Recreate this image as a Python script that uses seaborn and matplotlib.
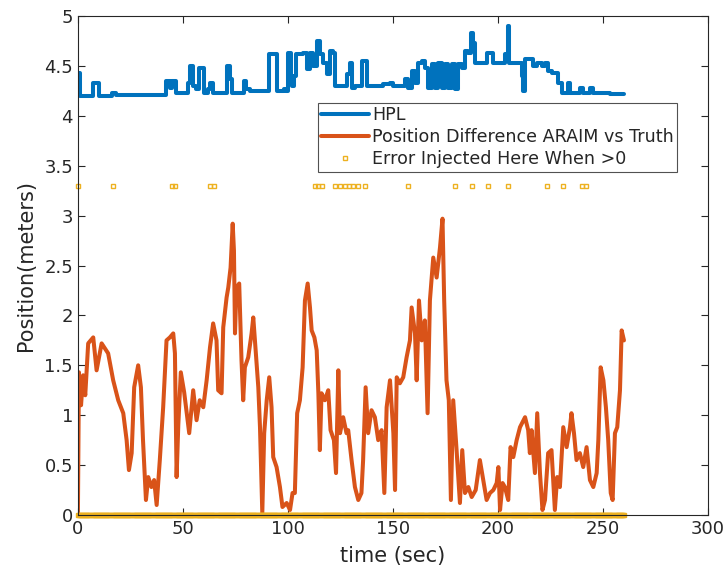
import numpy as np
import pandas as pd
import matplotlib
matplotlib.use('Agg')
import matplotlib.pyplot as plt
import seaborn as sns
from matplotlib.ticker import FuncFormatter

# HPL (step values, held until next time)
hpl_time = [0, 1, 7, 10, 16, 18, 42, 44, 45, 46.5, 52.5, 53.5, 55, 56, 57.5, 60, 62, 63, 64.5,
            71, 72.5, 73.5, 79, 80, 82, 91, 95, 98, 99, 100, 101.5, 102, 103, 104, 107.3,
            108.9, 110.5, 112.1, 113.7, 115.2, 116.8, 118.4, 120, 121.6, 122.4, 128, 129.5,
            130.3, 131.9, 135.1, 137.5, 145.4, 148.6, 150.2, 155.7, 157.3, 158.9, 160.5,
            162.1, 163.7, 165.2, 166.8, 168.4, 170, 171.6, 173.2, 174.8, 176.4, 178, 179.5,
            181.1, 182.7, 184.3, 185.9, 187, 188.2, 189, 194.6, 197.8, 203.3, 204.6, 205.4,
            211.3, 212.1, 212.9, 216.8, 218.4, 220.8, 222.4, 224, 225.5, 228.7, 230.3, 233.5,
            234.3, 239, 240.6, 243.8, 245.4, 253.3, 260]
hpl_value = [4.43, 4.20, 4.33, 4.20, 4.23, 4.21, 4.35, 4.28, 4.35, 4.23, 4.33, 4.50, 4.30, 4.27,
             4.48, 4.23, 4.27, 4.33, 4.23, 4.50, 4.37, 4.23, 4.35, 4.27, 4.25, 4.62, 4.25, 4.27,
             4.25, 4.63, 4.40, 4.30, 4.40, 4.62, 4.63, 4.47, 4.63, 4.50, 4.75, 4.62, 4.53, 4.42,
             4.65, 4.63, 4.30, 4.42, 4.53, 4.28, 4.30, 4.55, 4.30, 4.32, 4.33, 4.30, 4.37, 4.28,
             4.45, 4.33, 4.53, 4.55, 4.48, 4.28, 4.52, 4.28, 4.53, 4.28, 4.52, 4.28, 4.52, 4.27,
             4.52, 4.48, 4.65, 4.63, 4.83, 4.73, 4.53, 4.63, 4.53, 4.62, 4.90, 4.53, 4.40, 4.25,
             4.57, 4.50, 4.53, 4.50, 4.53, 4.45, 4.43, 4.33, 4.23, 4.33, 4.23, 4.28, 4.23, 4.28,
             4.23, 4.22, 4.22]

# Position difference ARAIM vs truth
diff_time = [0, 0.5, 1.5, 2.5, 3.5, 4.9, 7.3, 8.9, 11.3, 14.4, 16.8, 19.2, 21.6, 23.2, 24.3,
             25.6, 26.8, 28.7, 30, 31, 32.4, 33.5, 35, 36.3, 37.5, 39, 40.6, 42.2, 43.8, 45.4,
             46.2, 47, 47.8, 49, 50.6, 53, 54.9, 56.5, 58, 59.7, 61.3, 62.9, 64.4, 66, 66.8,
             68.4, 69.2, 70.8, 71.6, 72.7, 73.7, 74.3, 74.8, 75.5, 76.8, 77.9, 78.7, 79.5,
             81.1, 82.7, 83.5, 84.3, 85.9, 86.7, 87.8, 88.7, 89.9, 91.1, 92.2, 93, 94.6, 96.2,
             97.4, 99.4, 101, 102.2, 103.3, 104.4, 105.7, 107, 108.1, 109.4, 110.5, 111.3,
             112.6, 113.7, 114.5, 115.2, 116, 117.6, 119.2, 120.3, 121.9, 122.9, 124, 124.8,
             126.3, 127.9, 128.7, 130.3, 131.9, 133.5, 135, 135.8, 137, 138.2, 139.8, 141.4,
             143, 144.6, 145.9, 147, 148.6, 150.2, 151, 151.8, 153.3, 154.9, 156.5, 158.1,
             158.9, 160.5, 161.3, 162.4, 163.7, 165.2, 166.5, 167.6, 169.2, 170.8, 172.4,
             173.6, 174.4, 175.5, 176.6, 177.6, 178.7, 180.3, 181.9, 183, 184.3, 185.9, 187.5,
             189.4, 191.4, 193, 194.6, 196.2, 197.8, 199.4, 200.2, 201, 202.2, 203.3, 204.9,
             206, 207.3, 208.9, 210.5, 212.9, 214.4, 215.2, 216, 217.6, 218.7, 220, 221.2,
             222.4, 223.9, 225.5, 227.1, 228.2, 229.5, 231.1, 232.7, 234.3, 235, 236.2, 237.4,
             239, 240.6, 242.2, 243.8, 245.4, 247, 247.8, 248.9, 250.2, 251.4, 252.5, 253.7,
             254.6, 255.7, 256.8, 258.1, 258.9, 260]
diff_value = [0, 1.43, 1.1, 1.4, 1.2, 1.72, 1.78, 1.45, 1.72, 1.62, 1.35, 1.15, 1.02, 0.75, 0.45,
              0.62, 1.28, 1.5, 1.28, 0.75, 0.15, 0.38, 0.28, 0.35, 0.1, 0.55, 1.08, 1.75, 1.78,
              1.82, 1.62, 0.38, 0.9, 1.43, 1.23, 0.82, 1.25, 0.95, 1.15, 1.08, 1.35, 1.68, 1.92,
              1.75, 1.25, 1.22, 1.88, 2.18, 2.28, 2.48, 2.92, 2.65, 1.82, 2.28, 2.32, 1.55, 1.15,
              1.48, 1.58, 1.82, 1.98, 1.75, 1.28, 0.88, 0.02, 0.82, 1.15, 1.38, 1.08, 0.58, 0.48,
              0.28, 0.08, 0.12, 0.05, 0.22, 0.22, 1.02, 1.15, 1.48, 2.15, 2.32, 2.08, 1.85, 1.78,
              1.65, 1.22, 0.65, 1.22, 1.15, 1.25, 0.85, 0.75, 0.42, 1.45, 0.82, 0.98, 0.82, 0.85,
              0.55, 0.28, 0.15, 0.22, 0.55, 1.28, 0.82, 1.05, 0.98, 0.75, 0.85, 0.22, 1.08, 1.35,
              0.82, 0.25, 1.38, 1.32, 1.38, 1.58, 1.75, 2.08, 1.82, 1.35, 2.15, 1.75, 1.95, 1.02,
              2.15, 2.58, 2.38, 2.68, 2.97, 2.15, 1.35, 1.15, 0.15, 1.15, 0.65, 0.12, 0.65, 0.22,
              0.28, 0.18, 0.25, 0.55, 0.35, 0.15, 0.22, 0.25, 0.32, 0.48, 0.05, 0.32, 0.28, 0.15,
              0.68, 0.58, 0.75, 0.88, 0.98, 0.85, 0.62, 0.85, 0.42, 1.02, 0.42, 0.05, 0.15, 0.62,
              0.65, 0.05, 0.38, 0.28, 0.88, 0.68, 0.88, 1.02, 0.82, 0.55, 0.62, 0.48, 0.68, 0.35,
              0.28, 0.42, 0.75, 1.48, 1.35, 1.08, 0.75, 0.22, 0.15, 0.82, 0.88, 1.25, 1.85, 1.75]

# Error injection flag: level shown when injected, 0 otherwise
inject_time = [0, 16.7, 45, 46, 63, 65, 113, 114.5, 116, 122.5, 125, 127, 129, 131, 133.5, 136.5,
               157, 179.5, 187.6, 195.2, 204.8, 223.3, 231, 240, 242]
inject_level = 3.3
sample_step = 0.5
run_end = 260

C_BLUE = '#0072BD'
C_ORANGE = '#D95319'
C_YELLOW = '#EDB120'

sns.set_style('ticks')
plt.rcParams['font.family'] = ['DejaVu Sans']

fig = plt.figure(figsize=(7.28, 5.77), dpi=100)
ax = fig.add_axes([0.107, 0.1075, 0.8655, 0.8645])

hpl_df = pd.DataFrame({'t': hpl_time, 'v': hpl_value})
diff_df = pd.DataFrame({'t': diff_time, 'v': diff_value})
zero_t = np.arange(0, run_end + sample_step / 2, sample_step)
err_df = pd.DataFrame({'t': np.concatenate([zero_t, inject_time]),
                       'v': np.concatenate([np.zeros(len(zero_t)),
                                            np.full(len(inject_time), inject_level)])})

sns.lineplot(data=hpl_df, x='t', y='v', ax=ax, color=C_BLUE, linewidth=2.9,
             drawstyle='steps-post', estimator=None, sort=False, label='HPL')
sns.lineplot(data=diff_df, x='t', y='v', ax=ax, color=C_ORANGE, linewidth=2.9,
             estimator=None, sort=False, label='Position Difference ARAIM vs Truth')
sns.lineplot(data=err_df, x='t', y='v', ax=ax, color=C_YELLOW, linestyle='none',
             marker='s', markersize=3, markerfacecolor='none', markeredgecolor=C_YELLOW,
             markeredgewidth=1.0, estimator=None, sort=False, clip_on=False,
             label='Error Injected Here When >0')

ax.set_xlim(0, 300)
ax.set_ylim(0, 5)
ax.set_xticks(np.arange(0, 301, 50))
ax.set_yticks(np.arange(0, 5.01, 0.5))
ax.yaxis.set_major_formatter(FuncFormatter(lambda v, p: f'{v:g}'))
ax.tick_params(direction='in', top=True, right=True, length=5, width=0.8,
               labelsize=13, colors='#262626')
for s in ax.spines.values():
    s.set_color('#262626')
    s.set_linewidth(0.8)

ax.set_xlabel('time (sec)', fontsize=15, color='#262626', labelpad=6)
ax.set_ylabel('Position(meters)', fontsize=15, color='#262626', labelpad=6)

leg = ax.legend(loc='upper left', bbox_to_anchor=(0.381, 0.826), fontsize=12.6,
                frameon=True, fancybox=False, edgecolor='#262626', borderaxespad=0,
                handlelength=2.7, handletextpad=0.2, labelspacing=0.22, borderpad=0.2,
                markerscale=1.0)
leg.get_frame().set_linewidth(0.8)

fig.savefig('out.png', dpi=100)
